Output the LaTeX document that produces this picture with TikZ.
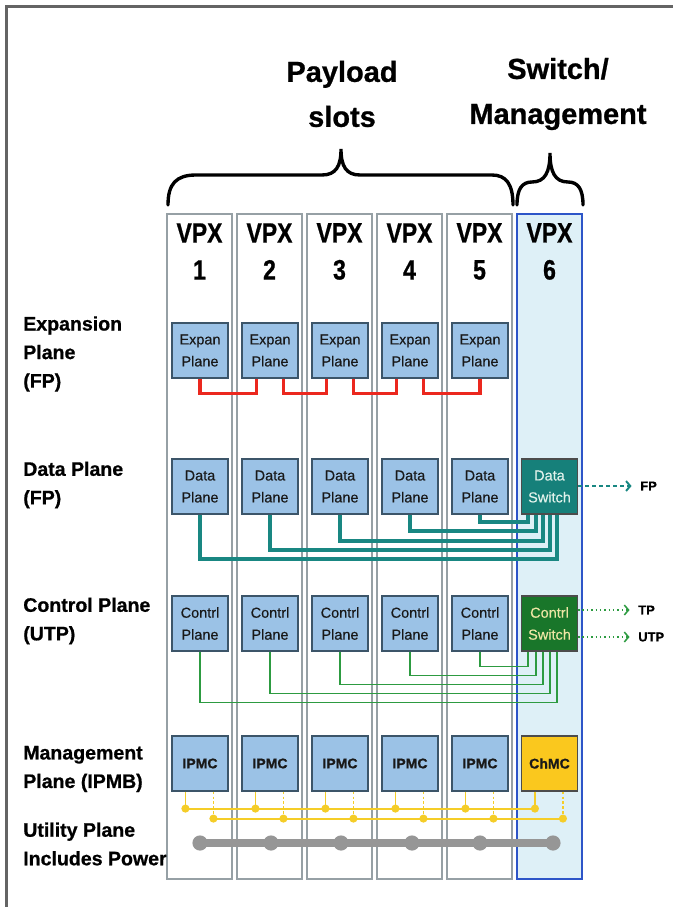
\documentclass[tikz,border=0pt]{standalone}
\usepackage{fontspec}
\setmainfont{Liberation Sans}
\newfontfamily\heavyfont[FakeBold=0.8]{Liberation Sans Bold}
\newfontfamily\vpxfont[FakeStretch=0.82,FakeBold=0.8]{Liberation Sans Bold}
\newfontfamily\boxfont[FakeBold=0.4]{Liberation Sans}
\usetikzlibrary{calc,arrows.meta}

\definecolor{framegray}{RGB}{100,100,100}
\definecolor{slotgray}{RGB}{150,160,165}
\definecolor{swblue}{RGB}{45,85,200}
\definecolor{swfill}{RGB}{222,240,247}
\definecolor{planeblue}{RGB}{155,194,230}
\definecolor{planeedge}{RGB}{60,85,105}
\definecolor{dsteal}{RGB}{22,128,122}
\definecolor{dstext}{RGB}{225,242,235}
\definecolor{csgreen}{RGB}{25,118,42}
\definecolor{cstext}{RGB}{238,230,165}
\definecolor{chmcgold}{RGB}{250,200,30}
\definecolor{expred}{RGB}{235,40,30}
\definecolor{dataline}{RGB}{25,135,130}
\definecolor{ctrlgreen}{RGB}{45,155,65}
\definecolor{ipmbyellow}{RGB}{245,205,40}
\definecolor{powergray}{RGB}{150,150,150}

\begin{document}
\begin{tikzpicture}[x=0.025cm,y=-0.025cm]
                        \tikzstyle{slot}=[draw=slotgray, line width=1.4pt, fill=white, minimum width=1.625cm, minimum height=16.625cm, inner sep=0pt]
                        \tikzstyle{vpx}=[align=center, font=\vpxfont\fontsize{19.9}{26.3}\selectfont]
                        \tikzstyle{planebox}=[draw=planeedge, line width=0.8pt, fill=planeblue, minimum width=1.4cm, minimum height=1.375cm, inner sep=0pt, align=center, text=black!90, font=\boxfont\fontsize{10.3}{15.6}\selectfont]
                        \tikzstyle{switchbox}=[planebox, draw=black!70]
                        \tikzstyle{rowlabel}=[anchor=west, align=left, inner sep=0pt, font=\heavyfont\fontsize{13.9}{20.3}\selectfont]
                        \tikzstyle{title}=[align=center, inner sep=0pt, font=\heavyfont\fontsize{20.6}{32}\selectfont]
                        \tikzstyle{extlabel}=[anchor=west, inner sep=0pt, font=\heavyfont\fontsize{9.2}{11}\selectfont]
                        \tikzstyle{explink}=[draw=expred, line width=2.2pt]
                        \tikzstyle{datalink}=[draw=dataline, line width=2.8pt]
                        \tikzstyle{ctrllink}=[draw=ctrlgreen, line width=1pt]
                        \tikzstyle{bracestroke}=[line width=2.4pt, line cap=round]
                        \tikzstyle{fparrow}=[draw=dataline, line width=1.4pt, dash pattern=on 3pt off 2pt, shorten >=6pt, -{Straight Barb[length=3pt,width=7pt]}]
                        \tikzstyle{tparrow}=[draw=ctrlgreen, line width=1.1pt, dotted, shorten >=6pt, -{Straight Barb[length=3pt,width=7pt]}]
                        \tikzstyle{busA}=[draw=ipmbyellow, line width=1.4pt]
                        \tikzstyle{busB}=[draw=ipmbyellow, line width=1.4pt]
                        \tikzstyle{tapA}=[draw=ipmbyellow, line width=0.8pt]
                        \tikzstyle{tapB}=[draw=ipmbyellow, line width=0.8pt, dash pattern=on 2pt off 1.5pt]
                        \tikzstyle{mcbox}=[planebox, font=\heavyfont\fontsize{10}{12}\selectfont]

                        \useasboundingbox (0,0) rectangle (673,907);
                        \draw[framegray, line width=2.2pt] (6.5,907) -- (6.5,6.5) -- (673,6.5);

                        % titles and braces
                        \node[title] (payload) at (342,94) {Payload\\slots};
                        \node[title] (switchmgmt) at (558,94) {Switch/\\Management};
                        \draw[bracestroke] (168,205) .. controls (168,184) and (176,175) .. (196,175)
                            -- (322,175) .. controls (336,175) and (341,166) .. (341,149)
                            .. controls (341,166) and (346,175) .. (360,175)
                            -- (492,175) .. controls (506,175) and (513,184) .. (513,205);
                        \draw[bracestroke] (517,205) .. controls (517,189) and (522,182) .. (532,182)
                            .. controls (545,182) and (550,172) .. (550,153)
                            .. controls (550,172) and (555,182) .. (568,182)
                            .. controls (578,182) and (583,189) .. (583,205);

                        % slots
                        \node[slot] (s1) at (199.5,546.5) {};
                        \node[slot] (s2) at (269.5,546.5) {};
                        \node[slot] (s3) at (339.5,546.5) {};
                        \node[slot] (s4) at (409.5,546.5) {};
                        \node[slot] (s5) at (479.5,546.5) {};
                        \node[slot, draw=swblue, fill=swfill, line width=1.8pt] (s6) at (549.5,546.5) {};
                        \node[vpx] (v1) at (199.5,251.5) {VPX\\1};
                        \node[vpx] (v2) at (269.5,251.5) {VPX\\2};
                        \node[vpx] (v3) at (339.5,251.5) {VPX\\3};
                        \node[vpx] (v4) at (409.5,251.5) {VPX\\4};
                        \node[vpx] (v5) at (479.5,251.5) {VPX\\5};
                        \node[vpx] (v6) at (549.5,251.5) {VPX\\6};

                        % row labels
                        \node[rowlabel] (lexp) at (23,354) {Expansion\\Plane\\(FP)};
                        \node[rowlabel] (ldata) at (23,485) {Data Plane\\(FP)};
                        \node[rowlabel] (lctrl) at (23,621) {Control Plane\\(UTP)};
                        \node[rowlabel] (lmgmt) at (23,769) {Management\\Plane (IPMB)};
                        \node[rowlabel] (lutil) at (23,844) {Utility Plane\\Includes Power};

                        % expansion plane
                        \node[planebox] (e1) at (200,350.5) {Expan\\Plane};
                        \node[planebox] (e2) at (270,350.5) {Expan\\Plane};
                        \node[planebox] (e3) at (340,350.5) {Expan\\Plane};
                        \node[planebox] (e4) at (410,350.5) {Expan\\Plane};
                        \node[planebox] (e5) at (480,350.5) {Expan\\Plane};
                        \draw[explink] (e1.south) -- ++(0,15) -| ($(e2.south west)+(15,0)$);
                        \draw[explink] ($(e2.south west)+(42,0)$) -- ++(0,15) -| ($(e3.south west)+(15,0)$);
                        \draw[explink] ($(e3.south west)+(42,0)$) -- ++(0,15) -| ($(e4.south west)+(15,0)$);
                        \draw[explink] ($(e4.south west)+(42,0)$) -- ++(0,15) -| (e5.south);

                        % data plane
                        \node[planebox] (d1) at (200,486.5) {Data\\Plane};
                        \node[planebox] (d2) at (270,486.5) {Data\\Plane};
                        \node[planebox] (d3) at (340,486.5) {Data\\Plane};
                        \node[planebox] (d4) at (410,486.5) {Data\\Plane};
                        \node[planebox] (d5) at (480,486.5) {Data\\Plane};
                        \node[switchbox, fill=dsteal, text=dstext] (ds) at (549.5,486.5) {Data\\Switch};
                        \coordinate (dp5) at ($(ds.south west)+(7,0)$);
                        \coordinate (dp4) at ($(ds.south west)+(15,0)$);
                        \coordinate (dp3) at ($(ds.south west)+(22,0)$);
                        \coordinate (dp2) at ($(ds.south west)+(29,0)$);
                        \coordinate (dp1) at ($(ds.south west)+(36,0)$);
                        \draw[datalink] (d5.south) -- ++(0,7) -| (dp5);
                        \draw[datalink] (d4.south) -- ++(0,16) -| (dp4);
                        \draw[datalink] (d3.south) -- ++(0,26) -| (dp3);
                        \draw[datalink] (d2.south) -- ++(0,35) -| (dp2);
                        \draw[datalink] (d1.south) -- ++(0,44) -| (dp1);
                        \node[extlabel] (fp) at (640,486) {FP};
                        \draw[fparrow] (fp -| ds.east) -- (fp.west);

                        % control plane
                        \node[planebox] (c1) at (200,623.5) {Contrl\\Plane};
                        \node[planebox] (c2) at (270,623.5) {Contrl\\Plane};
                        \node[planebox] (c3) at (340,623.5) {Contrl\\Plane};
                        \node[planebox] (c4) at (410,623.5) {Contrl\\Plane};
                        \node[planebox] (c5) at (480,623.5) {Contrl\\Plane};
                        \node[switchbox, fill=csgreen, text=cstext] (cs) at (549.5,623.5) {Contrl\\Switch};
                        \coordinate (cp5) at ($(cs.south west)+(7,0)$);
                        \coordinate (cp4) at ($(cs.south west)+(15,0)$);
                        \coordinate (cp3) at ($(cs.south west)+(22,0)$);
                        \coordinate (cp2) at ($(cs.south west)+(29,0)$);
                        \coordinate (cp1) at ($(cs.south west)+(36,0)$);
                        \draw[ctrllink] (c5.south) -- ++(0,15) -| (cp5);
                        \draw[ctrllink] (c4.south) -- ++(0,24) -| (cp4);
                        \draw[ctrllink] (c3.south) -- ++(0,33) -| (cp3);
                        \draw[ctrllink] (c2.south) -- ++(0,42) -| (cp2);
                        \draw[ctrllink] (c1.south) -- ++(0,51) -| (cp1);
                        \node[extlabel] (tp) at (638,610) {TP};
                        \node[extlabel] (utp) at (638,637) {UTP};
                        \draw[tparrow] (tp -| cs.east) -- (tp.west);
                        \draw[tparrow] (utp -| cs.east) -- (utp.west);

                        % management plane
                        \node[mcbox] (m1) at (200,763.5) {IPMC};
                        \node[mcbox] (m2) at (270,763.5) {IPMC};
                        \node[mcbox] (m3) at (340,763.5) {IPMC};
                        \node[mcbox] (m4) at (410,763.5) {IPMC};
                        \node[mcbox] (m5) at (480,763.5) {IPMC};
                        \node[mcbox, draw=black!70, fill=chmcgold] (cm) at (549.5,763.5) {ChMC};
                        \coordinate (a1) at ($(m1.south west)+(14,17)$);
                        \coordinate (a2) at ($(m2.south west)+(14,17)$);
                        \coordinate (a3) at ($(m3.south west)+(14,17)$);
                        \coordinate (a4) at ($(m4.south west)+(14,17)$);
                        \coordinate (a5) at ($(m5.south west)+(14,17)$);
                        \coordinate (a6) at ($(cm.south west)+(14,17)$);
                        \coordinate (b1) at ($(m1.south west)+(42,27)$);
                        \coordinate (b2) at ($(m2.south west)+(42,27)$);
                        \coordinate (b3) at ($(m3.south west)+(42,27)$);
                        \coordinate (b4) at ($(m4.south west)+(42,27)$);
                        \coordinate (b5) at ($(m5.south west)+(42,27)$);
                        \coordinate (b6) at ($(cm.south west)+(42,27)$);
                        \draw[tapA] (a1 |- m1.south) -- (a1) (a2 |- m2.south) -- (a2) (a3 |- m3.south) -- (a3)
                            (a4 |- m4.south) -- (a4) (a5 |- m5.south) -- (a5) (a6 |- cm.south) -- (a6);
                        \draw[tapB] (b1 |- m1.south) -- (b1) (b2 |- m2.south) -- (b2) (b3 |- m3.south) -- (b3)
                            (b4 |- m4.south) -- (b4) (b5 |- m5.south) -- (b5) (b6 |- cm.south) -- (b6);
                        \draw[busA] (a1) -- (a6);
                        \draw[busB] (b1) -- (b6);
                        \fill[ipmbyellow] (a1) circle (2.9pt) (a2) circle (2.9pt) (a3) circle (2.9pt)
                            (a4) circle (2.9pt) (a5) circle (2.9pt) (a6) circle (2.9pt);
                        \fill[ipmbyellow] (b1) circle (2.9pt) (b2) circle (2.9pt) (b3) circle (2.9pt)
                            (b4) circle (2.9pt) (b5) circle (2.9pt) (b6) circle (2.9pt);

                        % utility plane
                        \coordinate (p1) at (200,843);
                        \coordinate (p2) at (271,843);
                        \coordinate (p3) at (341,843);
                        \coordinate (p4) at (412,843);
                        \coordinate (p5) at (480,843);
                        \coordinate (p6) at (553,843);
                        \draw[powergray, line width=6pt] (p1) -- (p6);
                        \fill[powergray] (p1) circle (5.4pt) (p2) circle (5.4pt) (p3) circle (5.4pt)
                            (p4) circle (5.4pt) (p5) circle (5.4pt) (p6) circle (5.4pt);
                    \end{tikzpicture}
\end{document}
